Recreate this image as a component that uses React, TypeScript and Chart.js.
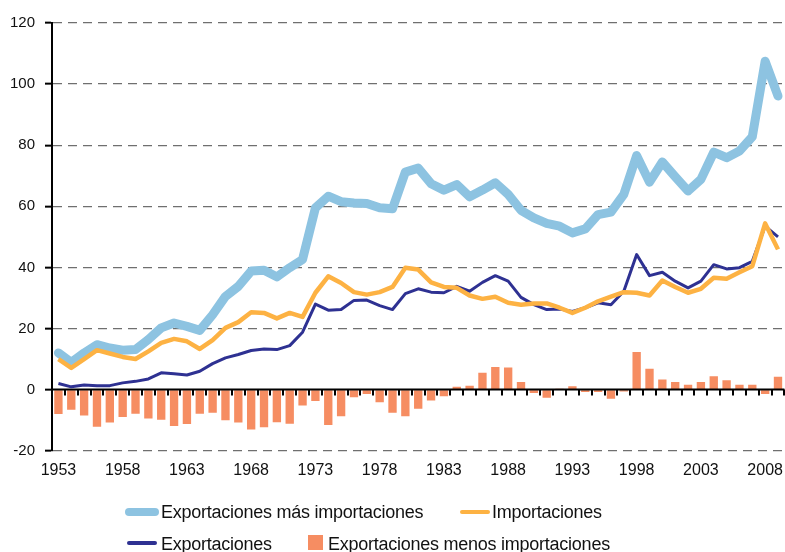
import React, { useEffect, useRef } from "react";
import { Chart, registerables } from "chart.js";

Chart.register(...registerables);

const years: string[] = [
  "1953", "1954", "1955", "1956", "1957", "1958", "1959", "1960", "1961", "1962",
  "1963", "1964", "1965", "1966", "1967", "1968", "1969", "1970", "1971", "1972",
  "1973", "1974", "1975", "1976", "1977", "1978", "1979", "1980", "1981", "1982",
  "1983", "1984", "1985", "1986", "1987", "1988", "1989", "1990", "1991", "1992",
  "1993", "1994", "1995", "1996", "1997", "1998", "1999", "2000", "2001", "2002",
  "2003", "2004", "2005", "2006", "2007", "2008", "2009",
];

const tickYears: string[] = ["1953", "1958", "1963", "1968", "1973", "1978", "1983", "1988", "1993", "1998", "2003", "2008"];

const exportsPlusImports: number[] = [
  12.0, 8.9, 12.0, 14.7, 13.6, 12.9, 13.1, 16.4, 20.2, 21.8,
  20.7, 19.4, 24.5, 30.5, 33.8, 38.8, 39.1, 36.9, 39.9, 42.6,
  59.5, 63.3, 61.5, 61.1, 60.9, 59.5, 59.2, 71.2, 72.5, 67.4,
  65.3, 67.1, 63.1, 65.3, 67.7, 63.9, 58.7, 56.2, 54.4, 53.5,
  51.3, 52.6, 57.3, 58.1, 63.9, 76.6, 67.9, 74.5, 69.7, 65.0,
  68.8, 77.7, 75.9, 78.1, 82.8, 107.5, 96.1,
];

const imports: number[] = [
  10.0, 7.1, 10.0, 12.9, 11.8, 10.7, 10.0, 12.5, 15.3, 16.6,
  15.8, 13.3, 16.2, 20.2, 22.1, 25.3, 25.1, 23.3, 25.1, 23.8,
  31.7, 37.1, 34.9, 31.9, 31.1, 31.9, 33.6, 39.9, 39.3, 35.1,
  33.6, 33.3, 30.8, 29.7, 30.4, 28.4, 27.8, 28.2, 28.2, 26.8,
  25.1, 26.8, 28.9, 30.4, 31.9, 31.7, 30.8, 35.7, 33.6, 31.7,
  33.0, 36.6, 36.3, 38.4, 40.4, 54.4, 45.9,
];

const exportsArr: number[] = [
  2.0, 0.9, 1.5, 1.3, 1.3, 2.2, 2.7, 3.5, 5.5, 5.2,
  4.8, 6.0, 8.5, 10.4, 11.5, 12.8, 13.3, 13.1, 14.4, 18.8,
  28.0, 26.0, 26.2, 29.2, 29.3, 27.5, 26.2, 31.4, 33.0, 31.9,
  31.7, 33.8, 32.2, 35.1, 37.3, 35.5, 30.2, 27.8, 26.2, 26.4,
  25.6, 26.8, 28.4, 27.8, 32.2, 44.2, 37.3, 38.4, 35.5, 33.3,
  35.5, 40.9, 39.5, 39.9, 42.0, 53.5, 50.0,
];

const exportsMinusImports: number[] = [
  -8.0, -6.6, -8.5, -12.2, -10.8, -9.0, -7.9, -9.5, -9.9, -11.9,
  -11.3, -7.9, -7.6, -10.0, -10.8, -13.1, -12.3, -10.7, -11.2, -5.2,
  -3.7, -11.6, -8.7, -2.5, -1.4, -4.1, -7.6, -8.7, -6.3, -3.6,
  -2.2, 0.9, 1.3, 5.5, 7.4, 7.2, 2.5, -1.1, -2.7, 0.3,
  1.1, -0.8, -0.8, -3.0, -0.6, 12.3, 6.8, 3.3, 2.5, 1.6,
  2.5, 4.4, 3.1, 1.6, 1.6, -1.4, 4.2,
];

const seriesNames: string[] = [
  "Exportaciones más importaciones",
  "Importaciones",
  "Exportaciones",
  "Exportaciones menos importaciones",
];

const C_SUM = "#8DC3E1";
const C_IMP = "#FDB243";
const C_EXP = "#2E3192";
const C_BAR = "#F68D62";
const FONT = "'Liberation Sans', Arial, Helvetica, sans-serif";

const zeroLinePlugin = {
  id: "zeroLine",
  afterDatasetDraw(chart: any, args: any) {
    if (args.index !== 3) return;
    const { ctx, chartArea, scales } = chart;
    const y0 = scales.y.getPixelForValue(0);
    ctx.save();
    ctx.strokeStyle = "#000";
    ctx.lineWidth = 2;
    ctx.beginPath();
    ctx.moveTo(chartArea.left, y0);
    ctx.lineTo(chartArea.right, y0);
    ctx.stroke();
    const n = years.length;
    for (let i = 0; i < n; i++) {
      const a = scales.x.getPixelForValue(i);
      const b = i + 1 < n ? scales.x.getPixelForValue(i + 1) : a + (a - scales.x.getPixelForValue(i - 1));
      const x = Math.round((a + b) / 2);
      ctx.beginPath();
      ctx.moveTo(x, y0);
      ctx.lineTo(x, y0 + 6);
      ctx.stroke();
    }
    ctx.restore();
  },
};

function LegendLine({ color, w, h, left, top }: { color: string; w: number; h: number; left: number; top: number }) {
  return (
    <div
      style={{
        position: "absolute",
        left,
        top: top - h / 2,
        width: w,
        height: h,
        background: color,
        borderRadius: h / 2,
      }}
    />
  );
}

function LegendText({ text, left, baseline }: { text: string; left: number; baseline: number }) {
  return (
    <div
      style={{
        position: "absolute",
        left,
        top: baseline - 15.3,
        fontFamily: FONT,
        fontSize: 18,
        lineHeight: "18px",
        color: "#111",
        whiteSpace: "nowrap",
        letterSpacing: "-0.25px",
      }}
    >
      {text}
    </div>
  );
}

export default function App() {
  const canvasRef = useRef<HTMLCanvasElement | null>(null);

  useEffect(() => {
    const canvas = canvasRef.current;
    if (!canvas) return;
    const chart = new Chart(canvas, {
      type: "bar",
      data: {
        labels: years,
        datasets: [
          {
            type: "line",
            label: seriesNames[0],
            data: exportsPlusImports,
            borderColor: C_SUM,
            backgroundColor: C_SUM,
            borderWidth: 9,
            pointRadius: 0,
            tension: 0,
            borderJoinStyle: "round",
            borderCapStyle: "round",
            order: 3,
          },
          {
            type: "line",
            label: seriesNames[1],
            data: imports,
            borderColor: C_IMP,
            backgroundColor: C_IMP,
            borderWidth: 4.5,
            pointRadius: 0,
            tension: 0,
            borderJoinStyle: "round",
            order: 1,
          },
          {
            type: "line",
            label: seriesNames[2],
            data: exportsArr,
            borderColor: C_EXP,
            backgroundColor: C_EXP,
            borderWidth: 3,
            pointRadius: 0,
            tension: 0,
            borderJoinStyle: "round",
            order: 2,
          },
          {
            type: "bar",
            label: seriesNames[3],
            data: exportsMinusImports,
            backgroundColor: C_BAR,
            borderWidth: 0,
            barPercentage: 0.65,
            categoryPercentage: 1,
            order: 4,
          },
        ],
      },
      options: {
        responsive: false,
        animation: false,
        devicePixelRatio: 1,
        layout: { padding: { left: 0, right: 0, top: 23, bottom: 71.3 } },
        plugins: {
          legend: { display: false },
          tooltip: { enabled: false },
          title: { display: false },
        },
        scales: {
          x: {
            type: "category",
            offset: true,
            grid: { display: false, drawTicks: false },
            border: { display: false },
            ticks: {
              autoSkip: false,
              maxRotation: 0,
              minRotation: 0,
              padding: 10,
              color: "#111",
              font: { family: FONT, size: 16 },
              callback: (_v: any, idx: number) => (tickYears.includes(years[idx]) ? years[idx] : ""),
            },
            afterFit: (s: any) => {
              s.height = 30;
            },
          },
          y: {
            min: -20,
            max: 120,
            ticks: {
              stepSize: 20,
              padding: 10,
              color: "#111",
              font: { family: FONT, size: 15 },
            },
            grid: {
              color: (c: any) => (c.tick && c.tick.value === 0 ? "rgba(0,0,0,0)" : "#6f6f6f"),
              lineWidth: 1.3,
              drawTicks: true,
              tickLength: 7,
              tickColor: "#000",
              tickWidth: 2,
              tickBorderDash: [],
            },
            border: { display: true, color: "#000", width: 2, dash: [9, 6] },
            afterFit: (s: any) => {
              s.width = 52;
            },
          },
        },
      },
      plugins: [zeroLinePlugin],
    } as any);
    return () => chart.destroy();
  }, []);

  return (
    <div style={{ position: "absolute", left: 0, top: 0, width: 785, height: 552, overflow: "hidden", background: "#fff" }}>
      <canvas ref={canvasRef} width={788} height={552} style={{ position: "absolute", left: 0, top: 0 }} />
      <LegendLine color={C_SUM} w={34} h={8} left={125} top={512} />
      <LegendText text={seriesNames[0]} left={161} baseline={518} />
      <LegendLine color={C_IMP} w={30} h={4} left={460} top={512} />
      <LegendText text={seriesNames[1]} left={492} baseline={518} />
      <LegendLine color={C_EXP} w={30} h={4} left={127} top={543} />
      <LegendText text={seriesNames[2]} left={161} baseline={550} />
      <div style={{ position: "absolute", left: 308, top: 535, width: 15, height: 15, background: C_BAR }} />
      <LegendText text={seriesNames[3]} left={328} baseline={550} />
    </div>
  );
}
